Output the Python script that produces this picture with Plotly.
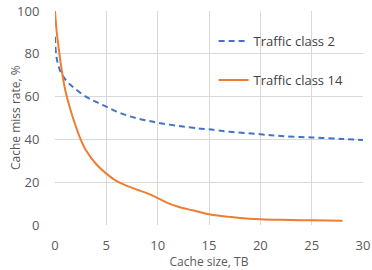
import plotly.graph_objects as go

x_tc2 = [0, 0.1, 0.3, 0.6, 1, 1.5, 2, 3, 4, 5, 6, 7, 8, 9, 10, 12, 14, 15, 17, 20, 22, 25, 28, 30]
y_tc2 = [88, 80, 75, 71, 68, 65.5, 63.5, 60, 57.5, 55.3, 53, 51.2, 49.8, 48.8, 47.8, 46.3, 45.1, 44.7, 43.6, 42.4, 41.6, 40.9, 40.2, 39.7]

x_tc14 = [0, 0.15, 0.3, 0.6, 1, 1.5, 2, 2.5, 3, 4, 5, 6, 7, 8, 9, 10, 11, 12, 13, 14, 15, 17, 18, 20, 22, 25, 28]
y_tc14 = [100, 91, 85, 74, 63, 54, 46.5, 40, 35, 28.5, 24, 20.5, 18.3, 16.5, 14.8, 12.6, 10.2, 8.5, 7.3, 6.2, 5.0, 3.8, 3.3, 2.7, 2.4, 2.2, 2.0]

names = ["Traffic class 2", "Traffic class 14"]
x_ticks = [0, 5, 10, 15, 20, 25, 30]
y_ticks = [0, 20, 40, 60, 80, 100]
y_title = "Cache miss rate, %"
x_title = "Cache size, TB"

font = "Open Sans, Liberation Sans, sans-serif"
fig = go.Figure()
fig.add_trace(go.Scatter(x=x_tc2, y=y_tc2, mode="lines", name=names[0], showlegend=True,
                         line=dict(color="#4472C4", width=2, dash="6px,4px", shape="spline"),
                         legend="legend"))
fig.add_trace(go.Scatter(x=x_tc14, y=y_tc14, mode="lines", name=names[1], showlegend=True,
                         line=dict(color="#ED7D31", width=2, shape="spline"),
                         legend="legend2"))

leg = dict(font=dict(family=font, size=13, color="#404040"), bgcolor="rgba(0,0,0,0)",
           xanchor="left", yanchor="middle", itemwidth=30, visible=True)
fig.update_layout(
    width=372, height=270,
    margin=dict(l=55, r=9, t=11, b=45),
    showlegend=True,
    paper_bgcolor="white", plot_bgcolor="white",
    font=dict(family=font, size=13, color="#595959"),
    legend=dict(leg, x=0.515, y=1 - (41 - 11) / 214),
    legend2=dict(leg, x=0.515, y=1 - (80 - 11) / 214),
    xaxis=dict(range=[0, 30], tickvals=x_ticks, showgrid=True, gridcolor="#D9D9D9",
               zeroline=False, showline=False, ticks="outside", ticklen=8, tickcolor="rgba(0,0,0,0)",
               automargin=False,
               title=dict(text=x_title, font=dict(size=12, color="#595959"), standoff=5),
               tickfont=dict(size=13, color="#595959")),
    yaxis=dict(range=[0, 100], tickvals=y_ticks, showgrid=True, gridcolor="#D9D9D9",
               zeroline=False, showline=False, ticks="outside", ticklen=12, tickcolor="rgba(0,0,0,0)",
               automargin=False,
               tickfont=dict(size=13, color="#595959")),
    annotations=[dict(text=y_title, xref="paper", yref="paper", x=0, y=0.5, xshift=-40,
                      xanchor="center", yanchor="middle", textangle=-90, showarrow=False,
                      font=dict(size=12, color="#595959"))],
)
fig.write_html("out.html")
